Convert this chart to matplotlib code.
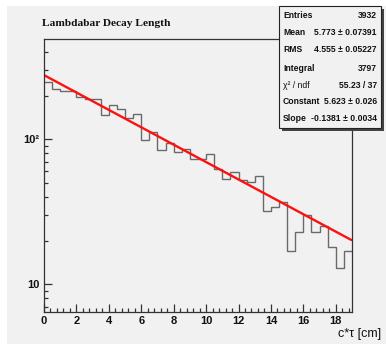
import numpy as np
import matplotlib
matplotlib.use("Agg")
import matplotlib.pyplot as plt
from matplotlib.patches import Rectangle
from matplotlib.ticker import FixedLocator, FixedFormatter, MultipleLocator, NullFormatter

# 38 bins of 0.5 cm between 0 and 19
bin_edges = np.linspace(0, 19, 39)
counts = [247, 223, 214, 214, 195, 190, 190, 148, 171, 162,
          140, 149, 99, 113, 84, 94, 82, 86, 73, 73,
          79, 62, 53, 59, 52, 51, 56, 32, 34, 37,
          17, 23, 30, 23, 25, 18, 13, 17]

# exponential fit: exp(const + slope * x)
fit_const = 5.623
fit_slope = -0.1381
fit_range = [0, 19]

stats_labels = ["Entries", "Mean", "RMS", "Integral", "χ² / ndf", "Constant", "Slope"]
stats_values = ["3932", "5.773 ± 0.07391", "4.555 ± 0.05227", "3797",
                "55.23 / 37", "5.623 ± 0.026", "-0.1381 ± 0.0034"]

title = "Lambdabar Decay Length"
xlabel = "c*τ [cm]"

W, H = 386, 344
BG = "#f1f1f1"
NARROW = ["Liberation Sans Narrow", "Liberation Sans", "DejaVu Sans"]


def fx(px):
    return px / W


def fy(py):
    return 1 - py / H


fig = plt.figure(figsize=(W / 100, H / 100), dpi=100, facecolor="white")
fig.add_artist(Rectangle((fx(7), 0), 1, fy(6), transform=fig.transFigure,
                         facecolor=BG, edgecolor="none", zorder=-10))

ax = fig.add_axes([fx(44), fy(312), fx(352) - fx(44), fy(39) - fy(312)])
ax.set_facecolor(BG)

ax.stairs(counts, bin_edges, baseline=None, color="#6a6a6a", lw=1.0)

fit_x = np.array(fit_range, dtype=float)
ax.plot(fit_x, np.exp(fit_const + fit_slope * fit_x), color="#ff1010", lw=1.7,
        solid_capstyle="butt")

ax.set_yscale("log")
ax.set_xlim(0, 19)
ax.set_ylim(6.43, 491)

for s in ax.spines.values():
    s.set_color("#333333")
    s.set_linewidth(0.9)

ax.xaxis.set_major_locator(MultipleLocator(2))
ax.xaxis.set_minor_locator(MultipleLocator(0.4))
ax.yaxis.set_major_locator(FixedLocator([10, 100]))
ax.yaxis.set_major_formatter(FixedFormatter(["10", "10²"]))
ax.yaxis.set_minor_locator(FixedLocator([7, 8, 9, 20, 30, 40, 50, 60, 70, 80, 90,
                                         200, 300, 400]))
ax.yaxis.set_minor_formatter(NullFormatter())
ax.tick_params(which="major", direction="in", length=6, width=0.9, color="#333333",
               pad=3)
ax.tick_params(which="minor", direction="in", length=3, width=0.9, color="#333333")
for lab in ax.get_xticklabels() + ax.get_yticklabels():
    lab.set_family(NARROW)
    lab.set_fontweight("bold")
    lab.set_fontsize(8)
    lab.set_color("#111111")

fig.text(fx(42), fy(24), title, family=["Liberation Serif", "DejaVu Serif"],
         fontweight="bold", fontsize=8.2, ha="left", va="center", color="#111111")
fig.text(fx(381), fy(334), xlabel, family=NARROW, fontsize=9,
         ha="right", va="center", color="#111111")

# stats box with shadow
bx0, bx1, by0, by1 = 279, 381, 6, 128
fig.add_artist(Rectangle((fx(bx0 + 3), fy(by1 + 3)), fx(bx1) - fx(bx0), fy(by0) - fy(by1),
                         transform=fig.transFigure, facecolor="#444444",
                         edgecolor="none", zorder=5))
fig.add_artist(Rectangle((fx(bx0), fy(by1)), fx(bx1) - fx(bx0), fy(by0) - fy(by1),
                         transform=fig.transFigure, facecolor=BG,
                         edgecolor="#222222", lw=0.8, zorder=6))
row_y = [15, 32.3, 50, 68.3, 85, 101.7, 118.3]
for lab, val, y in zip(stats_labels, stats_values, row_y):
    weight = "normal" if lab.startswith("χ") else "bold"
    fig.text(fx(283), fy(y), lab, family=NARROW, fontweight=weight, fontsize=6.2,
             ha="left", va="center", color="#111111", zorder=7)
    fig.text(fx(377), fy(y), val, family=NARROW, fontweight="bold", fontsize=6.2,
             ha="right", va="center", color="#111111", zorder=7)

fig.savefig("out.png", dpi=100, facecolor=fig.get_facecolor())
